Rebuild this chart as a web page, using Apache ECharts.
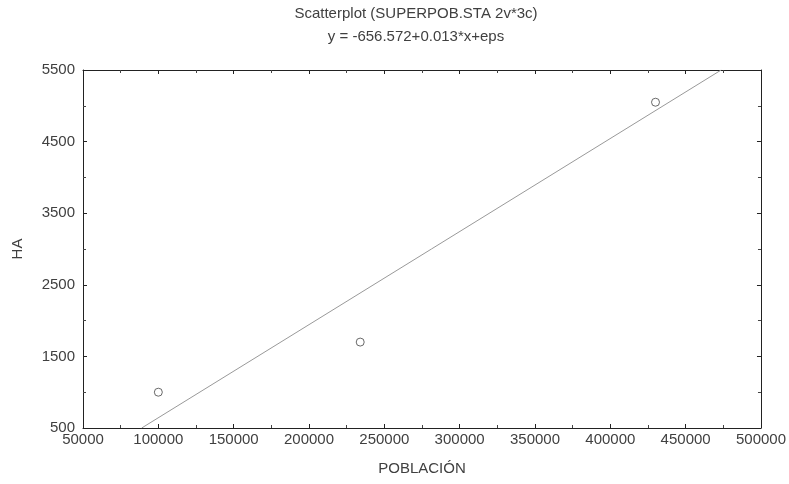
<!DOCTYPE html>
<html><head><meta charset="utf-8">
<script src="https://cdn.jsdelivr.net/npm/echarts@6/dist/echarts.min.js"></script>
<style>html,body{margin:0;padding:0;background:#fff}#c{width:789px;height:484px}</style>
</head><body><div id="c"></div>
<script>
const poblacion = [100000, 234000, 430000];
const ha = [1000, 1700, 5050];
const fitIntercept = -656.572;
const fitSlope = 0.013;
const xTicks = [50000, 500000, 50000]; // min, max, interval
const yTicks = [500, 5500, 1000];

const pts = poblacion.map((x, i) => [x, ha[i]]);
// regression line clipped to the axis box
const xAt = y => (y - fitIntercept) / fitSlope;
const lineData = [[xAt(yTicks[0]), yTicks[0]], [xAt(yTicks[1]), yTicks[1]]];

const font = 'Liberation Sans, Arial, sans-serif';
const txt = '#404040';
const plain = v => String(v);
const tickStyle = {show: true, inside: true, length: 4, lineStyle: {color: '#222'}};
const minor = {show: true, splitNumber: 2, length: 3, lineStyle: {color: '#444'}};
const chart = echarts.init(document.getElementById('c'));
chart.setOption({
  animation: false,
  title: {
    text: 'Scatterplot (SUPERPOB.STA 2v*3c)\ny = -656.572+0.013*x+eps',
    left: 416, textAlign: 'center', top: 2, padding: 0,
    textStyle: {fontFamily: font, fontSize: 15, fontWeight: 'normal', color: txt, lineHeight: 23}
  },
  grid: {left: 83, right: 26, top: 70, bottom: 56},
  xAxis: [{
    type: 'value', min: xTicks[0], max: xTicks[1], interval: xTicks[2],
    name: 'POBLACIÓN', nameLocation: 'middle', nameGap: 33,
    nameTextStyle: {fontFamily: font, fontSize: 15, color: txt},
    axisLine: {lineStyle: {color: '#222'}}, axisTick: tickStyle,
    minorTick: minor, splitLine: {show: false},
    axisLabel: {fontFamily: font, fontSize: 15, color: txt, margin: 4, formatter: plain}
  }, {
    type: 'value', position: 'top', min: xTicks[0], max: xTicks[1], interval: xTicks[2],
    axisLine: {show: true, lineStyle: {color: '#222'}}, axisTick: tickStyle,
    minorTick: minor, axisLabel: {show: false}, splitLine: {show: false}
  }],
  yAxis: [{
    type: 'value', min: yTicks[0], max: yTicks[1], interval: yTicks[2],
    name: 'HA', nameLocation: 'middle', nameGap: 58, nameRotate: 90,
    nameTextStyle: {fontFamily: font, fontSize: 15, color: txt},
    axisLine: {show: true, lineStyle: {color: '#222'}}, axisTick: tickStyle,
    minorTick: minor, splitLine: {show: false},
    axisLabel: {fontFamily: font, fontSize: 15, color: txt, margin: 8, formatter: plain}
  }, {
    type: 'value', position: 'right', min: yTicks[0], max: yTicks[1], interval: yTicks[2],
    axisLine: {show: true, lineStyle: {color: '#222'}}, axisTick: tickStyle,
    minorTick: minor, axisLabel: {show: false}, splitLine: {show: false}
  }],
  series: [{
    type: 'line', data: lineData, symbol: 'none', silent: true,
    lineStyle: {color: '#999', width: 1}
  }, {
    type: 'scatter', data: pts, symbol: 'circle', symbolSize: 8,
    itemStyle: {color: '#fff', borderColor: '#444', borderWidth: 1}
  }]
});
</script></body></html>
